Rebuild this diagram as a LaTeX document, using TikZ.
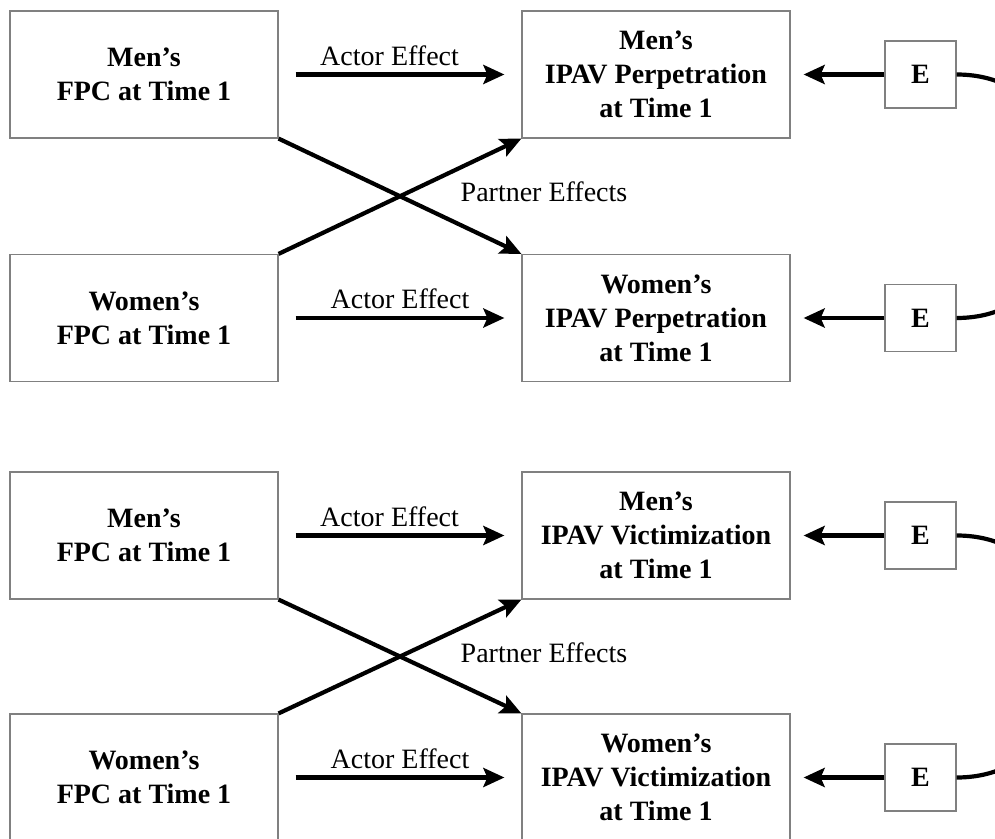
\documentclass[tikz,border=0pt]{standalone}
\usepackage{fontspec}
\setmainfont{Liberation Serif}
\usetikzlibrary{arrows.meta}

\begin{document}
\begin{tikzpicture}[
    x=0.5pt, y=-0.5pt,
    var/.style={
        rectangle,
        draw=gray,
        line width=0.6pt,
        minimum width=134pt,
        minimum height=63.5pt,
        align=center,
        font=\fontsize{14}{17}\selectfont\bfseries
    },
    err/.style={
        rectangle,
        draw=gray,
        line width=0.6pt,
        minimum width=35.5pt,
        minimum height=33.5pt,
        font=\fontsize{14}{17}\selectfont\bfseries
    },
    effect/.style={-{Stealth[length=10.5pt,width=9.5pt,inset=2pt]}, line width=2.1pt},
    cov/.style={line width=2.1pt},
    lbl/.style={font=\fontsize{14}{17}\selectfont}
]
\clip (0,0) rectangle (995,839);
\useasboundingbox (0,0) rectangle (995,839);

% Perpetration
\node[var] (mfpcA) at (144,74.5) {Men's\\FPC at Time 1};
\node[var] (mipavA) at (656,74.5) {Men's\\IPAV Perpetration\\at Time 1};
\node[var] (wfpcA) at (144,318) {Women's\\FPC at Time 1};
\node[var] (wipavA) at (656,318) {Women's\\IPAV Perpetration\\at Time 1};
\node[err] (eA1) at (920.5,74.5) {E};
\node[err] (eA2) at (920.5,318) {E};
\node[lbl] (peA) at (544,192) {Partner Effects};

\draw[effect] ([xshift=8.5pt]mfpcA.east) -- node[lbl, above, pos=0.45] {Actor Effect} ([xshift=-8.5pt]mipavA.west);
\draw[effect] ([xshift=8.5pt]wfpcA.east) -- node[lbl, above] {Actor Effect} ([xshift=-8.5pt]wipavA.west);
\draw[effect] (mfpcA.south east) -- (wipavA.north west);
\draw[effect] (wfpcA.north east) -- (mipavA.south west);
\draw[effect] (eA1.west) -- ([xshift=6.5pt]mipavA.east);
\draw[effect] (eA2.west) -- ([xshift=6.5pt]wipavA.east);
\draw[cov] (eA1.east) .. controls +(150,0) and +(150,0) .. (eA2.east);

% Victimization
\node[var] (mfpcB) at (144,535.5) {Men's\\FPC at Time 1};
\node[var] (mipavB) at (656,535.5) {Men's\\IPAV Victimization\\at Time 1};
\node[var] (wfpcB) at (144,777.5) {Women's\\FPC at Time 1};
\node[var] (wipavB) at (656,777.5) {Women's\\IPAV Victimization\\at Time 1};
\node[err] (eB1) at (920.5,535.5) {E};
\node[err] (eB2) at (920.5,777.5) {E};
\node[lbl] (peB) at (544,653) {Partner Effects};

\draw[effect] ([xshift=8.5pt]mfpcB.east) -- node[lbl, above, pos=0.45] {Actor Effect} ([xshift=-8.5pt]mipavB.west);
\draw[effect] ([xshift=8.5pt]wfpcB.east) -- node[lbl, above] {Actor Effect} ([xshift=-8.5pt]wipavB.west);
\draw[effect] (mfpcB.south east) -- (wipavB.north west);
\draw[effect] (wfpcB.north east) -- (mipavB.south west);
\draw[effect] (eB1.west) -- ([xshift=6.5pt]mipavB.east);
\draw[effect] (eB2.west) -- ([xshift=6.5pt]wipavB.east);
\draw[cov] (eB1.east) .. controls +(150,0) and +(150,0) .. (eB2.east);

\end{tikzpicture}
\end{document}
